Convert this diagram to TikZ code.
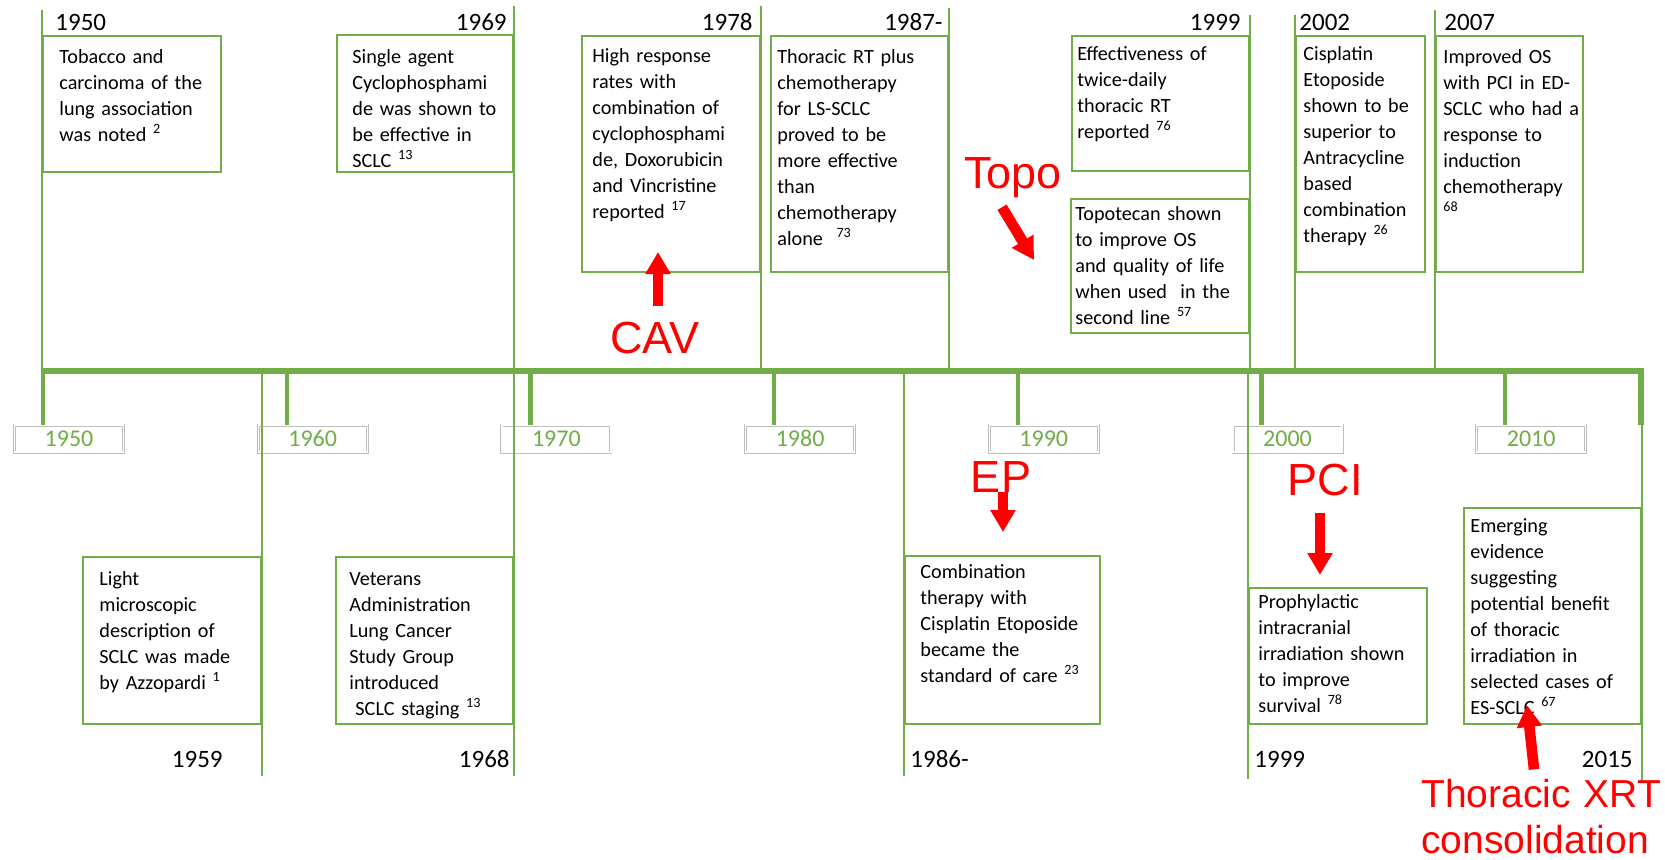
\documentclass[tikz,border=0pt]{standalone}
\usepackage{fontspec}
\setmainfont{Carlito}
\newfontfamily\labelfont{Liberation Sans}
\usetikzlibrary{arrows.meta,positioning}
\definecolor{tlgreen}{RGB}{112,173,71}
\definecolor{tlred}{RGB}{255,0,0}
\newcommand{\stemcolor}{tlgreen}
\newcommand{\stemwidth}{1pt}
\newcommand{\axiswidth}{2.8pt}
\newcommand{\tickstep}{243.7}
\tikzset{
  evbox/.style={draw=\stemcolor, line width=\stemwidth, inner sep=0pt, anchor=north west},
  evtext/.style={anchor=base west, inner sep=0pt, text width=95pt, align=left, font=\fontsize{10.1}{13}\selectfont},
  yearlabel/.style={inner sep=0pt, font=\fontsize{12.5}{15}\selectfont},
  axisyear/.style={draw=black!25, line width=0.4pt, double=white, double distance=0.7pt, fill=white, minimum width=54.5pt, minimum height=13.5pt, inner sep=0pt, text=\stemcolor, font=\fontsize{12}{14}\selectfont},
  stem/.style={draw=\stemcolor, line width=\stemwidth},
  yeartick/.style={draw=\stemcolor, line width=2.2pt},
  redlabel/.style={inner sep=0pt, text=tlred, font=\labelfont\fontsize{22.5}{27}\selectfont},
  redarrow/.style={draw=tlred, line width=5.3pt, -{Triangle[width=12pt,length=11pt]}}
}
\begin{document}
\begin{tikzpicture}[x=0.5pt,y=-0.5pt]
\useasboundingbox (0,0) rectangle (1665,859);
\coordinate (axisline) at (0,371);
%decades
\foreach \yr [count=\i from 0] in {1950,1960,...,2010}{
  \node[axisyear] (ay\yr) at ({69+\tickstep*\i},438.5) {\yr};
  \draw[yeartick] ([xshift=-13pt]ay\yr.north) -- ([xshift=-13pt]ay\yr.north |- axisline);
}
\draw[draw=\stemcolor, line width=\axiswidth] (43,371) -- (1641,371) -- (1641,425);
%top row
\node[evbox, minimum width=89pt, minimum height=68pt] (t1950) at (42,35) {};
\node[evtext] (t1950txt) at ([xshift=8.5pt,yshift=-14pt]t1950.north west) {Tobacco and\\carcinoma of the\\lung association\\was noted \textsuperscript{2}};
\node[evbox, minimum width=88pt, minimum height=68.5pt] (t1969) at (336,34) {};
\node[evtext] (t1969txt) at ([xshift=8pt,yshift=-14.5pt]t1969.north west) {Single agent\\Cyclophosphami\\de was shown to\\be effective in\\SCLC \textsuperscript{13}};
\node[evbox, minimum width=89pt, minimum height=118pt] (t1978) at (581,35) {};
\node[evtext] (t1978txt) at ([xshift=5.5pt,yshift=-13.5pt]t1978.north west) {High response\\rates with\\combination of\\cyclophosphami\\de, Doxorubicin\\and Vincristine\\reported \textsuperscript{17}};
\node[evbox, minimum width=88.5pt, minimum height=118pt] (t1987) at (770,35) {};
\node[evtext] (t1987txt) at ([xshift=3.5pt,yshift=-14pt]t1987.north west) {Thoracic RT plus\\chemotherapy\\for LS-SCLC\\proved to be\\more effective\\than\\chemotherapy\\alone~ \textsuperscript{73}};
\node[evbox, minimum width=88.5pt, minimum height=67.5pt] (t1999) at (1071,35) {};
\node[evtext] (t1999txt) at ([xshift=3pt,yshift=-12.5pt]t1999.north west) {Effectiveness of\\twice-daily\\thoracic RT\\reported \textsuperscript{76}};
\node[evbox, minimum width=89pt, minimum height=67pt] (t1999b) at (1070,198) {};
\node[evtext] (t1999btxt) at ([xshift=2.5pt,yshift=-11pt]t1999b.north west) {Topotecan shown\\to improve OS\\and quality of life\\when used~ in the\\second line \textsuperscript{57}};
\node[evbox, minimum width=64.5pt, minimum height=118pt] (t2002) at (1295,35) {};
\node[evtext] (t2002txt) at ([xshift=4pt,yshift=-12.5pt]t2002.north west) {Cisplatin\\Etoposide\\shown to be\\superior to\\Antracycline\\based\\combination\\therapy \textsuperscript{26}};
\node[evbox, minimum width=73.5pt, minimum height=118pt] (t2007) at (1435,35) {};
\node[evtext] (t2007txt) at ([xshift=4pt,yshift=-14pt]t2007.north west) {Improved OS\\with PCI in ED-\\SCLC who had a\\response to\\induction\\chemotherapy\\\textsuperscript{68}};
%bottom row
\node[evbox, minimum width=89pt, minimum height=83.5pt] (b1959) at (82,556) {};
\node[evtext] (b1959txt) at ([xshift=8.5pt,yshift=-14.5pt]b1959.north west) {Light\\microscopic\\description of\\SCLC was made\\by Azzopardi \textsuperscript{1}};
\node[evbox, minimum width=88.5pt, minimum height=83.5pt] (b1968) at (335,556) {};
\node[evtext] (b1968txt) at ([xshift=7pt,yshift=-14.5pt]b1968.north west) {Veterans\\Administration\\Lung Cancer\\Study Group\\introduced\\\hspace*{0.3em}SCLC staging \textsuperscript{13}};
\node[evbox, minimum width=97.5pt, minimum height=84pt] (b1986) at (904,555) {};
\node[evtext] (b1986txt) at ([xshift=8pt,yshift=-11.5pt]b1986.north west) {Combination\\therapy with\\Cisplatin Etoposide\\became the\\standard of care \textsuperscript{23}};
\node[evbox, minimum width=89pt, minimum height=68pt] (b1999) at (1248,587) {};
\node[evtext] (b1999txt) at ([xshift=5pt,yshift=-10.5pt]b1999.north west) {Prophylactic\\intracranial\\irradiation shown\\to improve\\survival \textsuperscript{78}};
\node[evbox, minimum width=88.5pt, minimum height=108pt] (b2015) at (1463,507) {};
\node[evtext] (b2015txt) at ([xshift=3.5pt,yshift=-12.5pt]b2015.north west) {Emerging\\evidence\\suggesting\\potential benefit\\of thoracic\\irradiation in\\selected cases of\\ES-SCLC \textsuperscript{67}};
%stems
\draw[stem] ([yshift=12.5pt]t1950.north west) -- (t1950.north west |- axisline);
\draw[stem] ([yshift=14pt]t1969.north east) -- (t1969.north east |- axisline);
\draw[stem] ([yshift=14.5pt]t1978.north east) -- (t1978.north east |- axisline);
\draw[stem] ([yshift=13.5pt]t1987.north east) -- (t1987.north east |- axisline);
\draw[stem] ([yshift=10pt]t1999.north east) -- (t1999.north east |- axisline);
\draw[stem] ([yshift=10pt]t2002.north west) -- (t2002.north west |- axisline);
\draw[stem] ([yshift=12.5pt]t2007.north west) -- (t2007.north west |- axisline);
\draw[stem] (b1959.north east |- axisline) -- ([yshift=-25.5pt]b1959.south east);
\draw[stem] (b1968.north east |- axisline) -- ([yshift=-25.5pt]b1968.south east);
\draw[stem] (b1986.north west |- axisline) -- ([yshift=-25.5pt]b1986.south west);
\draw[stem] (b1999.north west |- axisline) -- ([yshift=-27pt]b1999.south west);
\draw[stem] (b2015.north east |- axisline) -- ([yshift=-27.5pt]b2015.south east);
%years
\node[yearlabel, anchor=base west] (y1950) at (55,30) {1950};
\node[yearlabel, anchor=base east] (y1969) at (507,30) {1969};
\node[yearlabel, anchor=base east] (y1978) at (753,30) {1978};
\node[yearlabel, anchor=base east] (y1987) at (943,30) {1987-};
\node[yearlabel, anchor=base east] (y1999) at (1241,30) {1999};
\node[yearlabel, anchor=base west] (y2002) at (1299,30) {2002};
\node[yearlabel, anchor=base west] (y2007) at (1444,30) {2007};
\node[yearlabel, anchor=base east] (y1959) at (223,767) {1959};
\node[yearlabel, anchor=base east] (y1968) at (510,767) {1968};
\node[yearlabel, anchor=base west] (y1986) at (910,767) {1986-};
\node[yearlabel, anchor=base west] (y1999b) at (1254,767) {1999};
\node[yearlabel, anchor=base east] (y2015) at (1633,767) {2015};
%red notes
\node[redlabel, anchor=base] (cav) at (655,353) {CAV};
\coordinate (cavtip) at (658,252);
\draw[redarrow] ([xshift=1.5pt,yshift=7.5pt]cav.north) -- (cavtip);
\node[redlabel, anchor=base] (topo) at (1013,188) {Topo};
\coordinate (topotip) at (1034,260);
\draw[redarrow] ([xshift=-5.5pt,yshift=-4.75pt]topo.south) -- (topotip);
\node[redlabel, anchor=base] (ep) at (1001,492) {EP};
\coordinate (eptip) at (1003,532);
\draw[redarrow] ([xshift=1pt]ep.south) -- (eptip);
\node[redlabel, anchor=base] (pci) at (1325,495) {PCI};
\coordinate (pcitip) at (1320,575);
\draw[redarrow] ([xshift=-2.5pt,yshift=-8.5pt]pci.south) -- (pcitip);
\node[redlabel, font=\labelfont\fontsize{19.5}{23}\selectfont, anchor=base west, text width=130pt, align=left] (xrt) at (1421,807) {Thoracic XRT\\consolidation};
\coordinate (xrttip) at (1527,705);
\draw[redarrow] ([xshift=56.5pt,yshift=4.5pt]xrt.north west) -- (xrttip);
\end{tikzpicture}
\end{document}
